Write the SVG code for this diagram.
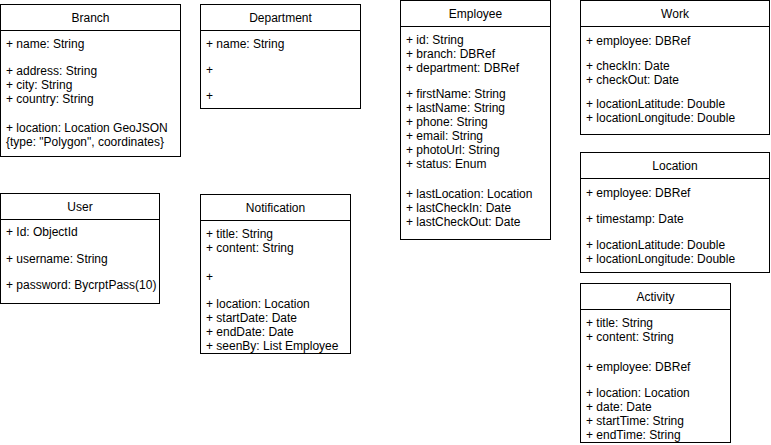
<svg xmlns="http://www.w3.org/2000/svg" width="771" height="445" viewBox="0 0 771 445">
<style>
.box{fill:#ffffff;stroke:#000000;stroke-width:1}
.sep{stroke:#000000;stroke-width:1}
text{font-family:"Liberation Sans",Arial,Helvetica,sans-serif;font-size:12px;fill:#000000}
.t{text-anchor:middle}
</style>
<rect x="0" y="0" width="771" height="445" fill="#ffffff"/>
<g id="connectors"/>
<g id="Branch">
<rect class="box" x="0.5" y="4.5" width="180" height="152"/>
<line class="sep" x1="0.5" y1="30.5" x2="180.5" y2="30.5"/>
<text class="t" x="90.5" y="22">Branch</text>
<text x="6" y="48">+ name: String</text>
<text x="6" y="75">+ address: String</text>
<text x="6" y="89">+ city: String</text>
<text x="6" y="103">+ country: String</text>
<text x="6" y="132">+ location: Location GeoJSON</text>
<text x="6" y="146">{type: "Polygon", coordinates}</text>
</g>
<g id="Department">
<rect class="box" x="200.5" y="4.5" width="160" height="104"/>
<line class="sep" x1="200.5" y1="30.5" x2="360.5" y2="30.5"/>
<text class="t" x="280.5" y="22">Department</text>
<text x="206" y="48">+ name: String</text>
<text x="206" y="74">+</text>
<text x="206" y="100">+</text>
</g>
<g id="Employee">
<rect class="box" x="400.5" y="0.5" width="150" height="239"/>
<line class="sep" x1="400.5" y1="26.5" x2="550.5" y2="26.5"/>
<text class="t" x="475.5" y="18">Employee</text>
<text x="406" y="44">+ id: String</text>
<text x="406" y="58">+ branch: DBRef</text>
<text x="406" y="72">+ department: DBRef</text>
<text x="406" y="98">+ firstName: String</text>
<text x="406" y="112">+ lastName: String</text>
<text x="406" y="126">+ phone: String</text>
<text x="406" y="140">+ email: String</text>
<text x="406" y="154">+ photoUrl: String</text>
<text x="406" y="168">+ status: Enum</text>
<text x="406" y="198">+ lastLocation: Location</text>
<text x="406" y="212">+ lastCheckIn: Date</text>
<text x="406" y="226">+ lastCheckOut: Date</text>
</g>
<g id="Work">
<rect class="box" x="580.5" y="0.5" width="189" height="134"/>
<line class="sep" x1="580.5" y1="26.5" x2="769.5" y2="26.5"/>
<text class="t" x="675" y="18">Work</text>
<text x="586" y="45">+ employee: DBRef</text>
<text x="586" y="70">+ checkIn: Date</text>
<text x="586" y="84">+ checkOut: Date</text>
<text x="586" y="108">+ locationLatitude: Double</text>
<text x="586" y="122">+ locationLongitude: Double</text>
</g>
<g id="Location">
<rect class="box" x="580.5" y="152.5" width="189" height="120"/>
<line class="sep" x1="580.5" y1="178.5" x2="769.5" y2="178.5"/>
<text class="t" x="675" y="170">Location</text>
<text x="586" y="197">+ employee: DBRef</text>
<text x="586" y="223">+ timestamp: Date</text>
<text x="586" y="249">+ locationLatitude: Double</text>
<text x="586" y="263">+ locationLongitude: Double</text>
</g>
<g id="Activity">
<rect class="box" x="580.5" y="283.5" width="150" height="159"/>
<line class="sep" x1="580.5" y1="309.5" x2="730.5" y2="309.5"/>
<text class="t" x="655.5" y="301">Activity</text>
<text x="586" y="327">+ title: String</text>
<text x="586" y="341">+ content: String</text>
<text x="586" y="371">+ employee: DBRef</text>
<text x="586" y="397">+ location: Location</text>
<text x="586" y="411">+ date: Date</text>
<text x="586" y="425">+ startTime: String</text>
<text x="586" y="439">+ endTime: String</text>
</g>
<g id="User">
<rect class="box" x="0.5" y="193.5" width="159" height="110"/>
<line class="sep" x1="0.5" y1="219.5" x2="159.5" y2="219.5"/>
<text class="t" x="80" y="211">User</text>
<text x="6" y="236">+ Id: ObjectId</text>
<text x="6" y="263">+ username: String</text>
<text x="6" y="289">+ password: BycrptPass(10)</text>
</g>
<g id="Notification">
<rect class="box" x="200.5" y="194.5" width="150" height="159"/>
<line class="sep" x1="200.5" y1="220.5" x2="350.5" y2="220.5"/>
<text class="t" x="275.5" y="212">Notification</text>
<text x="206" y="238">+ title: String</text>
<text x="206" y="252">+ content: String</text>
<text x="206" y="281">+</text>
<text x="206" y="308">+ location: Location</text>
<text x="206" y="322">+ startDate: Date</text>
<text x="206" y="336">+ endDate: Date</text>
<text x="206" y="350">+ seenBy: List Employee</text>
</g>
</svg>
